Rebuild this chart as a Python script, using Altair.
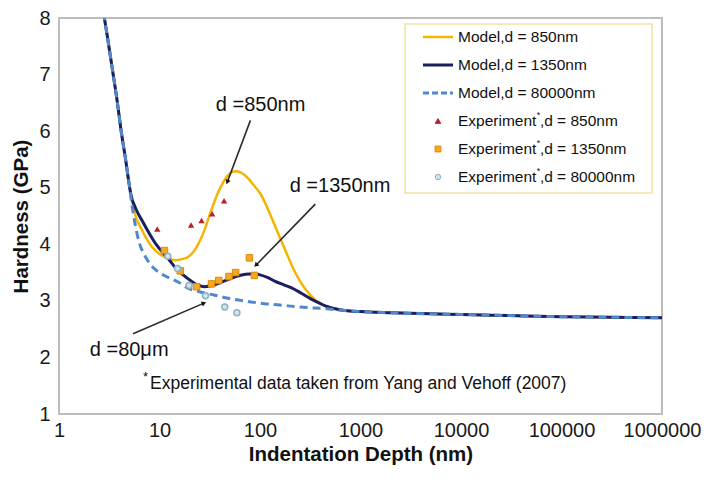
import altair as alt
import pandas as pd
import numpy as np

# ---------------- data ----------------
# shared steep descent of all three model curves
descent_x = [2.78, 2.83, 3.0, 3.42, 3.8, 4.14, 4.6]
descent_y = [8.1, 8.0, 7.72, 7.06, 6.52, 6.02, 5.5]

# shared tail
tail_x = [1000, 2000, 5000, 10000, 30000, 100000, 300000, 1000000]
tail_y = [2.81, 2.79, 2.77, 2.76, 2.74, 2.72, 2.71, 2.70]

m850_x = [5.0, 5.2, 5.59, 6.75, 8.46, 10, 12.3, 14.3, 18, 23.4, 28, 32, 38, 45, 52, 58, 66, 76, 88,
          102, 120, 149, 180, 217, 260, 317, 390, 462, 560, 700]
m850_y = [5.05, 4.88, 4.59, 4.24, 3.95, 3.83, 3.75, 3.72, 3.75, 3.95, 4.25, 4.55, 4.9, 5.15, 5.27,
          5.29, 5.26, 5.17, 5.03, 4.88, 4.62, 4.22, 3.88, 3.55, 3.30, 3.10, 2.96, 2.90, 2.86, 2.83]

m1350_x = [5.0, 5.19, 5.85, 6.75, 9.14, 12.3, 15, 18, 24, 28, 33, 40, 50, 60, 72, 85, 100, 120,
           140, 175, 217, 260, 317, 390, 462, 560, 700]
m1350_y = [5.05, 4.88, 4.62, 4.41, 4.01, 3.74, 3.55, 3.43, 3.28, 3.25, 3.27, 3.32, 3.39, 3.44,
           3.47, 3.48, 3.46, 3.41, 3.35, 3.28, 3.21, 3.13, 3.04, 2.96, 2.90, 2.86, 2.83]

m80k_x = [5.0, 5.4, 5.8, 6.26, 7.0, 7.85, 9.0, 10.6, 15.5, 19.4, 25, 35.5, 50, 75.5, 110, 150,
          250, 462, 700]
m80k_y = [5.05, 4.62, 4.3, 4.04, 3.83, 3.68, 3.56, 3.47, 3.33, 3.22, 3.16, 3.10, 3.04, 2.99,
          2.95, 2.93, 2.89, 2.86, 2.83]

tri_x = [9.5, 20.6, 26.2, 33.4, 43.9]
tri_y = [4.27, 4.34, 4.42, 4.54, 4.77]
sq_x = [11.2, 16.1, 23.4, 32.9, 38.9, 49.1, 57.2, 78.5, 87.9]
sq_y = [3.89, 3.53, 3.25, 3.30, 3.36, 3.43, 3.50, 3.76, 3.45]
circ_x = [12.1, 15.1, 19.7, 28.7, 44.6, 58.9]
circ_y = [3.79, 3.57, 3.27, 3.09, 2.89, 2.79]

ann_text = ["d =850nm", "d =1350nm", "d =80\u03bcm"]
ann_x = [101.4, 625, 4.99]
ann_y = [6.46, 5.03, 2.14]
arr_x1 = [80.3, 355, 5.46]
arr_y1 = [6.19, 4.71, 2.42]
arr_x2 = [47.3, 91.1, 27.7]
arr_y2 = [5.10, 3.63, 2.96]

x_ticks = [1, 10, 100, 1000, 10000, 100000, 1000000]
y_ticks = [1, 2, 3, 4, 5, 6, 7, 8]

legend_labels = ["Model,d = 850nm", "Model,d = 1350nm", "Model,d = 80000nm",
                 "850nm", "1350nm", "80000nm"]
footnote = "Experimental data taken from Yang and Vehoff (2007)"

# ---------------- styling ----------------
W, H = 603, 396
PAD = {"left": 51, "top": 10, "right": 39, "bottom": 51}
FONT = "Liberation Sans"
C850, C1350, C80K = "#f4b400", "#1b1f5e", "#4f88cc"
TRI_C = "#b8202a"
SQ_FILL, SQ_STROKE = "#f7a823", "#e08a00"
CI_FILL, CI_STROKE = "#d3e2ea", "#8fb0c0"

X = alt.X("x:Q", scale=alt.Scale(type="log", domain=[1, 1e6], nice=False),
          axis=alt.Axis(values=x_ticks, format="d", title="Indentation Depth (nm)",
                        labelFontSize=20, titleFontSize=20.5, titleFontWeight="bold",
                        labelPadding=6, titlePadding=4, domain=False, ticks=False, grid=False,
                        labelOverlap=False, labelFlush=False, labelColor="#1a1a1a",
                        titleColor="#111"))
Y = alt.Y("y:Q", scale=alt.Scale(domain=[1, 8], nice=False, zero=False),
          axis=alt.Axis(values=y_ticks, format="d", title="Hardness (GPa)",
                        labelFontSize=20, titleFontSize=20.5, titleFontWeight="bold",
                        labelPadding=9, titlePadding=7, domain=False, ticks=False, grid=False,
                        labelColor="#1a1a1a", titleColor="#111"))


def curve(xs, ys):
    return pd.DataFrame({"x": descent_x + xs + tail_x, "y": descent_y + ys + tail_y})


l850 = alt.Chart(curve(m850_x, m850_y)).mark_line(
    color=C850, strokeWidth=2.5, interpolate="monotone", clip=True).encode(x=X, y=Y)
l1350 = alt.Chart(curve(m1350_x, m1350_y)).mark_line(
    color=C1350, strokeWidth=3, interpolate="monotone", clip=True).encode(x=X, y=Y)
l80k = alt.Chart(curve(m80k_x, m80k_y)).mark_line(
    color=C80K, strokeWidth=3, strokeDash=[8, 5], interpolate="monotone", clip=True).encode(x=X, y=Y)

p_tri = alt.Chart(pd.DataFrame({"x": tri_x, "y": tri_y})).mark_point(
    shape="triangle-up", filled=True, size=40, color=TRI_C, opacity=1).encode(x=X, y=Y)
p_sq = alt.Chart(pd.DataFrame({"x": sq_x, "y": sq_y})).mark_point(
    shape="square", filled=True, size=42, fill=SQ_FILL, stroke=SQ_STROKE, strokeWidth=1,
    opacity=1).encode(x=X, y=Y)
p_ci = alt.Chart(pd.DataFrame({"x": circ_x, "y": circ_y})).mark_point(
    shape="circle", filled=True, size=36, fill=CI_FILL, stroke=CI_STROKE, strokeWidth=1.5,
    opacity=1).encode(x=X, y=Y)


# arrows
def px(v):
    return W * np.log10(v) / 6.0


def py(v):
    return H * (8 - v) / 7.0


angles = []
for a, b, c, d in zip(arr_x1, arr_y1, arr_x2, arr_y2):
    dx = px(c) - px(a)
    dy = py(d) - py(b)
    angles.append(float(np.degrees(np.arctan2(dx, -dy)) % 360))

arr_df = pd.DataFrame({"x": arr_x1, "y": arr_y1, "x2": arr_x2, "y2": arr_y2, "ang": angles})
arrows = alt.Chart(arr_df).mark_rule(color="#2a2a2a", strokeWidth=1.6).encode(
    x=X, y=Y, x2="x2:Q", y2="y2:Q")
heads = alt.Chart(arr_df).mark_point(shape="triangle-up", filled=True, size=28,
                                     color="#111", opacity=1).encode(
    x=alt.X("x2:Q", scale=alt.Scale(type="log", domain=[1, 1e6], nice=False)),
    y=alt.Y("y2:Q", scale=alt.Scale(domain=[1, 8], nice=False, zero=False)),
    angle=alt.Angle("ang:Q", scale=None))

ann = alt.Chart(pd.DataFrame({"x": ann_x, "y": ann_y, "t": ann_text})).mark_text(
    font=FONT, fontSize=20, color="#111", align="center", baseline="middle").encode(
    x=X, y=Y, text="t:N")

one = pd.DataFrame({"a": [0]})

# footnote (with raised asterisk), positions relative to plot-area top (abs 13 in the reference)
TOP_SHIFT = PAD["top"] + 8 - 13
foot_star = alt.Chart(one).mark_text(font=FONT, fontSize=13, color="#111", align="left",
                                     baseline="alphabetic").encode(
    x=alt.value(84), y=alt.value(368 - TOP_SHIFT), text=alt.value("*"))
foot_txt = alt.Chart(one).mark_text(font=FONT, fontSize=17.5, color="#111", align="left",
                                    baseline="alphabetic").encode(
    x=alt.value(91), y=alt.value(376 - TOP_SHIFT), text=alt.value(footnote))

# legend
LX0, LX1 = 346, 600 - (610 - W)
LY0, LY1 = 9 - TOP_SHIFT + 2, 178 - TOP_SHIFT + 2
ROW0, DROW = 22 - TOP_SHIFT + 2, 28
SYM0, SYM1, TXT = 364, 394, 399
LFS = 15.5
leg = [alt.Chart(one).mark_rect(fill="white", stroke="#efe3a0", strokeWidth=1.5).encode(
    x=alt.value(LX0), x2=alt.value(LX1), y=alt.value(LY0), y2=alt.value(LY1))]
line_styles = [(C850, 2.5, []), (C1350, 3, []), (C80K, 3, [6, 3])]
for i, (col, sw, dash) in enumerate(line_styles):
    yy = ROW0 + i * DROW
    kw = dict(color=col, strokeWidth=sw)
    if dash:
        kw["strokeDash"] = dash
    leg.append(alt.Chart(one).mark_rule(**kw).encode(
        x=alt.value(SYM0), x2=alt.value(SYM1), y=alt.value(yy)))
    leg.append(alt.Chart(one).mark_text(font=FONT, fontSize=LFS, color="#111", align="left",
                                        baseline="middle").encode(
        x=alt.value(TXT), y=alt.value(yy), text=alt.value(legend_labels[i])))
pt_styles = [dict(shape="triangle-up", fill=TRI_C, stroke=TRI_C, size=30),
             dict(shape="square", fill=SQ_FILL, stroke=SQ_STROKE, size=34),
             dict(shape="circle", fill=CI_FILL, stroke=CI_STROKE, size=30)]
exp_w = 5.057 * LFS  # width of "Experiment"
for j, st in enumerate(pt_styles):
    i = j + 3
    yy = ROW0 + i * DROW
    leg.append(alt.Chart(one).mark_point(filled=True, opacity=1, strokeWidth=1, **st).encode(
        x=alt.value((SYM0 + SYM1) / 2), y=alt.value(yy)))
    leg.append(alt.Chart(one).mark_text(font=FONT, fontSize=LFS, color="#111", align="left",
                                        baseline="middle").encode(
        x=alt.value(TXT), y=alt.value(yy), text=alt.value("Experiment")))
    leg.append(alt.Chart(one).mark_text(font=FONT, fontSize=9, color="#111", align="left",
                                        baseline="middle").encode(
        x=alt.value(TXT + exp_w + 0.3), y=alt.value(yy - 6), text=alt.value("*")))
    leg.append(alt.Chart(one).mark_text(font=FONT, fontSize=LFS, color="#111", align="left",
                                        baseline="middle").encode(
        x=alt.value(TXT + exp_w + 3.5), y=alt.value(yy),
        text=alt.value(",d = " + legend_labels[i])))

chart = alt.layer(l850, l1350, l80k, p_tri, p_sq, p_ci, arrows, heads, ann,
                  foot_star, foot_txt, *leg).properties(
    width=W, height=H,
    padding=PAD,
    autosize=alt.AutoSizeParams(type="none"),
    background="white",
).configure_view(stroke="#bdbdbd", strokeWidth=2).configure_axis(
    labelFont=FONT, titleFont=FONT)

chart.save("out.html", embed_options={"renderer": "svg", "actions": False})
